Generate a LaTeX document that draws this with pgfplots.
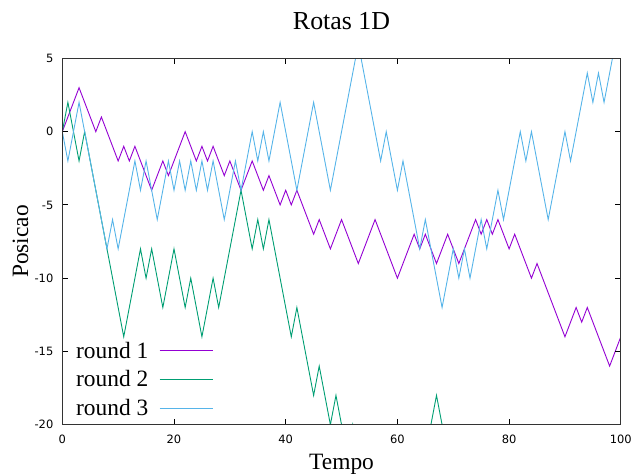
\documentclass[border=0pt]{standalone}
\usepackage{fontspec}
\setmainfont{Liberation Serif}
\newfontfamily\tickfont{DejaVu Sans}
\usepackage{pgfplots}
\pgfplotsset{compat=1.18}
\definecolor{c1}{HTML}{9400D3}
\definecolor{c2}{HTML}{009E73}
\definecolor{c3}{HTML}{56B4E9}
\begin{document}
\begin{tikzpicture}
\path[use as bounding box] (0,0) rectangle (633bp,475bp);
\begin{axis}[
  at={(62.3bp,50.3bp)}, anchor=south west,
  scale only axis, width=558.5bp, height=366.3bp,
  xmin=0, xmax=100, ymin=-20, ymax=5,
  xtick={0,20,40,60,80,100}, xticklabels={0,20,40,60,80,100},
  ytick={-20,-15,-10,-5,0,5}, yticklabels={-20,-15,-10,-5,0,5},
  tick label style={font=\tickfont\fontsize{11.5}{13}\selectfont, inner sep=0pt},
  xticklabel style={anchor=base, yshift=-18.6bp},
  yticklabel style={anchor=east, xshift=-8.8bp},
  major tick length=6bp, tick align=inside, tick pos=both,
  tick style={black, line width=0.9bp},
  axis line style={draw=black!80, line width=1.3bp},
  axis on top,
  title={Rotas 1D},
  title style={font=\fontsize{26}{30}\selectfont, at={(axis description cs:0.5,1.0625)}, anchor=base, inner sep=0pt},
  xlabel={Tempo},
  xlabel style={font=\fontsize{23.5}{28}\selectfont, at={(axis description cs:0.5,-0.1230)}, anchor=base, inner sep=0pt},
  ylabel={Posicao},
  ylabel style={font=\fontsize{23.5}{28}\selectfont, at={(axis description cs:-0.0614,0.5)}, anchor=base, rotate=0, inner sep=0pt},
  legend style={at={(axis description cs:0.019,0.015)}, anchor=south west, draw=none, fill=none,
    font=\fontsize{23.5}{28}\selectfont, legend plot pos=right, row sep=11bp, column sep=11bp,
    nodes={inner sep=0pt}, cells={anchor=east}},
  legend image code/.code={\draw[#1] (0bp,0bp) -- (53bp,0bp);},
  every axis plot/.append style={line width=0.9bp},
]
\addplot[c1] coordinates {(0,0)(1,1)(2,2)(3,3)(4,2)(5,1)(6,0)(7,1)(8,0)(9,-1)(10,-2)(11,-1)(12,-2)(13,-1)(14,-2)(15,-3)(16,-4)(17,-3)(18,-2)(19,-3)(20,-2)(21,-1)(22,0)(23,-1)(24,-2)(25,-1)(26,-2)(27,-1)(28,-2)(29,-3)(30,-2)(31,-3)(32,-4)(33,-3)(34,-2)(35,-3)(36,-4)(37,-3)(38,-4)(39,-5)(40,-4)(41,-5)(42,-4)(43,-5)(44,-6)(45,-7)(46,-6)(47,-7)(48,-8)(49,-7)(50,-6)(51,-7)(52,-8)(53,-9)(54,-8)(55,-7)(56,-6)(57,-7)(58,-8)(59,-9)(60,-10)(61,-9)(62,-8)(63,-7)(64,-8)(65,-7)(66,-8)(67,-9)(68,-8)(69,-7)(70,-8)(71,-9)(72,-8)(73,-7)(74,-6)(75,-7)(76,-6)(77,-7)(78,-6)(79,-7)(80,-8)(81,-7)(82,-8)(83,-9)(84,-10)(85,-9)(86,-10)(87,-11)(88,-12)(89,-13)(90,-14)(91,-13)(92,-12)(93,-13)(94,-12)(95,-13)(96,-14)(97,-15)(98,-16)(99,-15)(100,-14)};
\addlegendentry{round 1}
\addplot[c2] coordinates {(0,0)(1,2)(2,0)(3,-2)(4,0)(5,-2)(6,-4)(7,-6)(8,-8)(9,-10)(10,-12)(11,-14)(12,-12)(13,-10)(14,-8)(15,-10)(16,-8)(17,-10)(18,-12)(19,-10)(20,-8)(21,-10)(22,-12)(23,-10)(24,-12)(25,-14)(26,-12)(27,-10)(28,-12)(29,-10)(30,-8)(31,-6)(32,-4)(33,-6)(34,-8)(35,-6)(36,-8)(37,-6)(38,-8)(39,-10)(40,-12)(41,-14)(42,-12)(43,-14)(44,-16)(45,-18)(46,-16)(47,-18)(48,-20)(49,-18)(50,-20)(51,-22)(52,-20)(53,-22)(54,-24)(55,-26)(56,-24)(57,-26)(58,-28)(59,-26)(60,-24)(61,-26)(62,-24)(63,-22)(64,-24)(65,-22)(66,-20)(67,-18)(68,-20)(69,-22)(70,-24)(71,-22)(72,-24)(73,-26)(74,-28)(75,-26)(76,-28)(77,-30)(78,-28)(79,-30)(80,-32)(81,-30)(82,-28)(83,-30)(84,-28)(85,-26)(86,-28)(87,-26)(88,-24)(89,-26)(90,-28)(91,-26)(92,-24)(93,-26)(94,-24)(95,-22)(96,-24)(97,-26)(98,-24)(99,-26)(100,-28)};
\addlegendentry{round 2}
\addplot[c3] coordinates {(0,0)(1,-2)(2,0)(3,2)(4,0)(5,-2)(6,-4)(7,-6)(8,-8)(9,-6)(10,-8)(11,-6)(12,-4)(13,-2)(14,-4)(15,-2)(16,-4)(17,-6)(18,-4)(19,-2)(20,-4)(21,-2)(22,-4)(23,-2)(24,-4)(25,-2)(26,-4)(27,-2)(28,-4)(29,-6)(30,-4)(31,-2)(32,-4)(33,-2)(34,0)(35,-2)(36,0)(37,-2)(38,0)(39,2)(40,0)(41,-2)(42,-4)(43,-2)(44,0)(45,2)(46,0)(47,-2)(48,-4)(49,-2)(50,0)(51,2)(52,4)(53,6)(54,4)(55,2)(56,0)(57,-2)(58,0)(59,-2)(60,-4)(61,-2)(62,-4)(63,-6)(64,-8)(65,-6)(66,-8)(67,-10)(68,-12)(69,-10)(70,-8)(71,-10)(72,-8)(73,-10)(74,-8)(75,-6)(76,-8)(77,-6)(78,-4)(79,-6)(80,-4)(81,-2)(82,0)(83,-2)(84,0)(85,-2)(86,-4)(87,-6)(88,-4)(89,-2)(90,0)(91,-2)(92,0)(93,2)(94,4)(95,2)(96,4)(97,2)(98,4)(99,6)(100,8)};
\addlegendentry{round 3}
\end{axis}
\end{tikzpicture}
\end{document}
